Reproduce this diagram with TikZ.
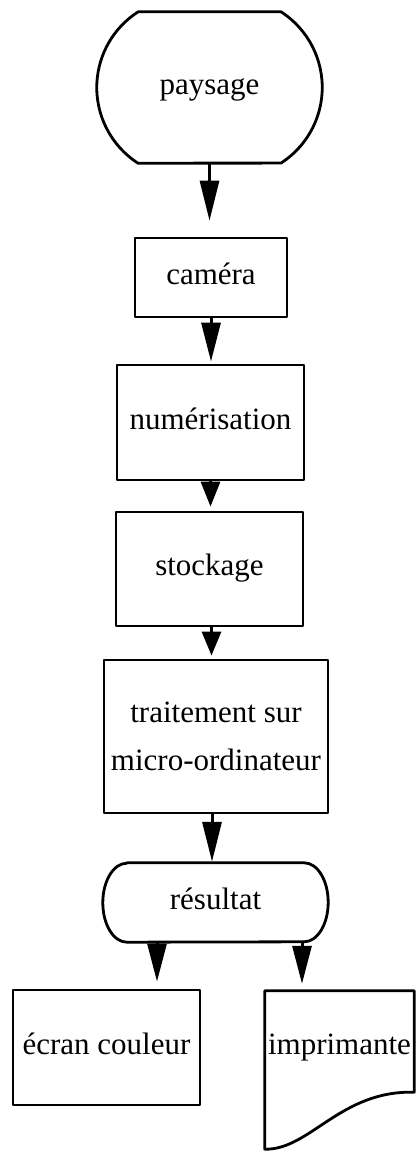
\documentclass[tikz,border=0pt]{standalone}
\usepackage{fontspec}
\setmainfont{Liberation Serif}
\usetikzlibrary{arrows.meta}

\begin{document}
\begin{tikzpicture}[x=1pt,y=1pt,line join=round,
  lbl/.style={font=\fontsize{31}{48}\selectfont,inner sep=1pt},
  single/.style={text height=21pt,text depth=7pt},
  box/.style={lbl,draw,line width=2.8pt},
  outline/.style={line width=2.8pt},
  flow/.style={line width=3pt,-{Triangle[length=#1,width=19pt]}}]
  \useasboundingbox (0,0) rectangle (417,1152);
  \node[lbl,single,minimum width=225pt,minimum height=151pt] (paysage) at (209.5,1064.5) {paysage};
  \node[box,single,minimum width=152pt,minimum height=79pt] (camera) at (211,874.5) {caméra};
  \node[box,single,minimum width=187pt,minimum height=115pt] (numerisation) at (210.5,729.5) {numérisation};
  \node[box,single,minimum width=187pt,minimum height=114pt] (stockage) at (209.5,583) {stockage};
  \node[box,align=center,minimum width=224pt,minimum height=153pt] (traitement) at (216,415.5) {traitement sur\\micro-ordinateur};
  \node[lbl,single,minimum width=225pt,minimum height=79pt] (resultat) at (215.5,249.5) {résultat};
  \node[box,single,minimum width=187pt,minimum height=115pt] (ecran) at (106.5,104.5) {écran couleur};
  \node[lbl,single,minimum width=149pt,minimum height=114pt] (imprimante) at (339.5,104) {imprimante};
  \draw[outline] ([xshift=41.2pt]paysage.north west) -- ([xshift=-41.2pt]paysage.north east)
    arc[start angle=57.2,end angle=-57.2,radius=90pt] -- ([xshift=41.2pt]paysage.south west)
    arc[start angle=237.2,end angle=122.8,radius=90pt] -- cycle;
  \draw[outline] ([xshift=24pt]resultat.north west) -- ([xshift=-24pt]resultat.north east)
    arc[start angle=90,end angle=-90,x radius=24pt,y radius=39.5pt] -- ([xshift=24pt]resultat.south west)
    arc[start angle=270,end angle=90,x radius=24pt,y radius=39.5pt] -- cycle;
  \draw[outline] (imprimante.north west) -- ([yshift=-44pt]imprimante.south west)
    .. controls +(45pt,-1pt) and +(-74pt,2pt) .. ([yshift=13pt]imprimante.south east)
    -- (imprimante.north east) -- cycle;
  \draw[flow=40pt,shorten >=16pt] (paysage.south) -- (paysage.south |- camera.north);
  \draw[flow=39pt,shorten >=2pt] (camera.south) -- (camera.south |- numerisation.north);
  \draw[flow=25pt,shorten >=4pt] (numerisation.south) -- (numerisation.south |- stockage.north);
  \draw[flow=24pt,shorten >=3pt] ([xshift=2pt]stockage.south) -- ([xshift=2pt]stockage.south |- traitement.north);
  \draw[flow=40pt,shorten >=1pt] ([xshift=-4pt]traitement.south) -- ([xshift=-4pt]traitement.south |- resultat.north);
  \coordinate (e) at ([xshift=50.5pt]ecran.north);
  \coordinate (i) at ([xshift=-37.5pt]imprimante.north);
  \draw[flow=38pt,shorten >=7pt] (resultat.south -| e) -- (e);
  \draw[flow=38pt,shorten >=7pt] (resultat.south -| i) -- (i);
\end{tikzpicture}
\end{document}
